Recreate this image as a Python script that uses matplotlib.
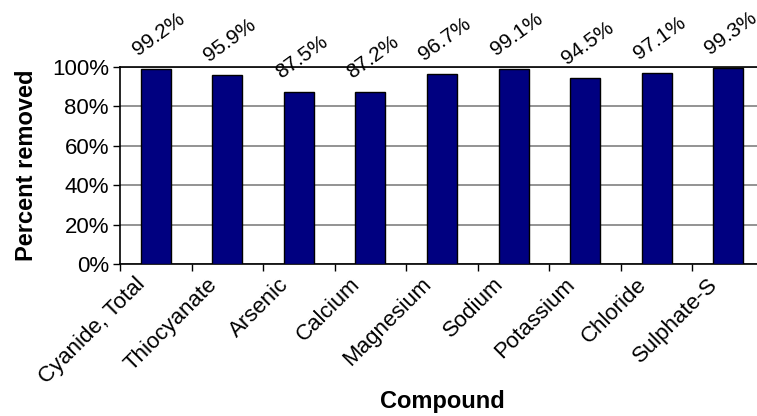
import matplotlib.pyplot as plt
import matplotlib.transforms as mtransforms
import numpy as np
from matplotlib.ticker import FuncFormatter, FixedLocator

compounds = ['Cyanide, Total', 'Thiocyanate', 'Arsenic', 'Calcium', 'Magnesium',
             'Sodium', 'Potassium', 'Chloride', 'Sulphate-S']
removed = [99.2, 95.9, 87.5, 87.2, 96.7, 99.1, 94.5, 97.1, 99.3]
yticks = [0, 20, 40, 60, 80, 100]

plt.rcParams['font.family'] = ['Liberation Sans', 'DejaVu Sans']

fig = plt.figure(figsize=(7.57, 4.16), dpi=100)
# axes runs a little past the right edge of the figure
ax = fig.add_axes([120 / 757, 1 - 264 / 416, 644 / 757, 197 / 416])

x = np.arange(len(compounds))
ax.bar(x, removed, width=0.42, color='#000080', edgecolor='black', linewidth=1, zorder=3)

ax.set_xlim(-0.5, len(compounds) - 0.5)
ax.set_ylim(0, 100)
ax.set_yticks(yticks)
ax.yaxis.set_major_formatter(FuncFormatter(lambda v, p: f'{v:.0f}%'))
ax.yaxis.grid(True, color='#808080', linewidth=1.2, zorder=0)

# ticks sit between the categories, labels under the bars
ax.xaxis.set_major_locator(FixedLocator(x - 0.5))
ax.xaxis.set_ticklabels([])
ax.xaxis.set_minor_locator(FixedLocator(x))
ax.xaxis.set_ticklabels(compounds, minor=True, rotation=45, ha='right',
                        rotation_mode='anchor', fontsize=16)
ax.tick_params(axis='x', which='minor', length=0, pad=7)
ax.tick_params(axis='x', which='major', length=5, width=1)
ax.tick_params(axis='y', length=5, width=1, labelsize=16, pad=3)
shift = mtransforms.ScaledTranslation(-15 / 72, 0, fig.dpi_scale_trans)
for lab in ax.xaxis.get_minorticklabels():
    lab.set_transform(lab.get_transform() + shift)

for side in ['left', 'bottom', 'top']:
    ax.spines[side].set_linewidth(1.2)
ax.spines['right'].set_visible(False)

for xi, v in zip(x, removed):
    ax.annotate(f'{v}%', (xi, v), xytext=(2, 7), textcoords='offset points',
                rotation=36, ha='center', va='bottom', fontsize=15, annotation_clip=False)

ax.set_ylabel('Percent removed', fontsize=17, fontweight='bold', labelpad=10)
ax.set_xlabel('Compound', fontsize=17, fontweight='bold')
ax.xaxis.set_label_coords(0.5, -0.64)

fig.savefig('out.png', dpi=100)
